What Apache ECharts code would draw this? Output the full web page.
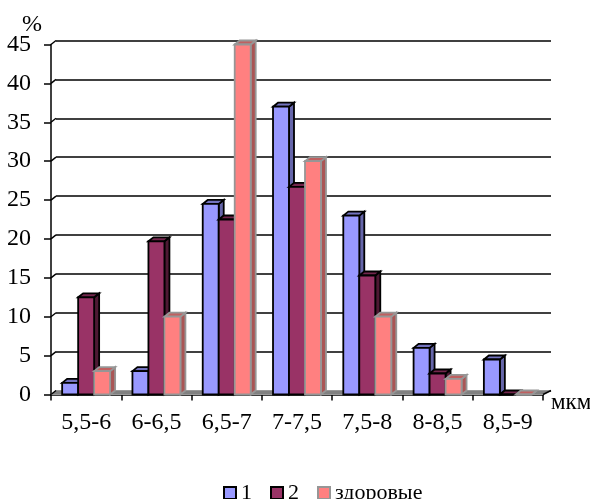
<!DOCTYPE html>
<html><head><meta charset="utf-8">
<style>html,body{margin:0;padding:0;background:#fff;overflow:hidden}#c{width:590px;height:499px}</style>
<script src="https://cdn.jsdelivr.net/npm/echarts@6/dist/echarts.min.js"></script>
</head><body><div id="c"></div>
<script>
const categories = ['5,5-6','6-6,5','6,5-7','7-7,5','7,5-8','8-8,5','8,5-9'];
const series1 = [1.5, 3, 24.5, 37, 23, 6, 4.5];
const series2 = [12.5, 19.7, 22.5, 26.7, 15.3, 2.7, 0];
const healthy = [3, 10, 45, 30, 10, 2, 0];
const yTicks = [0,5,10,15,20,25,30,35,40,45];
const names = ['1','2','здоровые'];
const colors = [
  {front:'#9999FF', top:'#7373BF', side:'#6666AA', border:'#000000'},
  {front:'#993366', top:'#73264C', side:'#4D1933', border:'#000000'},
  {front:'#FF8080', top:'#BF6060', side:'#AA5555', border:'#969696'}
];
const DX = 5, DY = 4, FONT = '"Liberation Serif","Times New Roman",serif';
const chart = echarts.init(document.getElementById('c'), null, {renderer:'canvas'});

function barSeries(idx, values){
  const c = colors[idx];
  return {
    type:'custom', name:names[idx], xAxisIndex:0, yAxisIndex:0, z:5+idx,
    itemStyle:{color:c.front, borderColor:c.border, borderWidth:2},
    data: values.map((v,i)=>[i,v]),
    encode:{x:0,y:1},
    renderItem(params, api){
      const p = api.coord([api.value(0), api.value(1)]);
      const base = api.coord([api.value(0), 0]);
      const w = api.size([1,0])[0] * 0.2275;
      const x = p[0] + (idx-1.5)*w, y = p[1], b = base[1];
      const st = f => ({fill:f, stroke:c.border, lineWidth:1.8, lineJoin:'miter'});
      return {type:'group', children:[
        {type:'polygon', shape:{points:[[x+w,y],[x+w+DX,y-DY],[x+w+DX,b-DY],[x+w,b]]}, style:st(c.side)},
        {type:'polygon', shape:{points:[[x,y],[x+DX,y-DY],[x+w+DX,y-DY],[x+w,y]]}, style:st(c.top)},
        {type:'rect', shape:{x:x,y:y,width:w,height:b-y}, style:st(c.front)}
      ]};
    }
  };
}

const wall = {
  type:'custom', name:'wall', xAxisIndex:0, yAxisIndex:0, z:1, silent:true,
  data: yTicks.map(v=>[0,v]), encode:{x:0,y:1},
  renderItem(params, api){
    const v = api.value(1);
    const y = api.coord([0,v])[1];
    const gs = params.coordSys, x0 = gs.x, x1 = gs.x+gs.width;
    const kids = [{type:'line', shape:{x1:x0,y1:y,x2:x0+DX,y2:y-DY}, style:{stroke:'#000',lineWidth:1.5}}];
    if (v === 0) {
      kids.unshift({type:'polygon', shape:{points:[[x0,y],[x0+DX,y-DY],[x1+8,y-DY],[x1,y]]},
        style:{fill:'#808080', stroke:'#999999', lineWidth:1}});
      kids.push({type:'line', shape:{x1:x1,y1:y,x2:x1+8,y2:y-DY}, style:{stroke:'#000',lineWidth:1.5}});
    }
    return {type:'group', children:kids};
  }
};

chart.setOption({
  animation:false,
  backgroundColor:'#fff',
  textStyle:{fontFamily:FONT, color:'#000'},
  legend:{
    left:218, top:477, itemWidth:12, itemHeight:12, itemGap:18, icon:'rect',
    textStyle:{fontFamily:FONT, fontSize:22, color:'#000', padding:[0,0,0,0]},
    data:names.map((n,i)=>({name:n, icon:'rect',
      itemStyle:{color:colors[i].front, borderColor:colors[i].border, borderWidth:2}}))
  },
  grid:[
    {left:51, top:44.5, width:492, height:350, outerBoundsMode:'none'},
    {left:56, top:40.5, width:495, height:350, outerBoundsMode:'none'}
  ],
  xAxis:[
    {type:'category', gridIndex:0, data:categories, boundaryGap:true,
     name:'мкм', nameLocation:'end', nameGap:8, nameMoveOverlap:false,
     nameTextStyle:{fontFamily:FONT, fontSize:23, color:'#000', verticalAlign:'top', padding:[-3,0,0,0], align:'left'},
     axisLine:{show:true, lineStyle:{color:'#000',width:1.5}},
     axisTick:{show:true, alignWithLabel:false, length:6, lineStyle:{color:'#000',width:1.5}},
     axisLabel:{fontFamily:FONT, fontSize:24, color:'#000', margin:16, interval:0},
     splitLine:{show:false}},
    {type:'category', gridIndex:1, data:categories, show:false}
  ],
  yAxis:[
    {type:'value', gridIndex:0, min:0, max:45, interval:5,
     name:'%', nameLocation:'end', nameGap:20, nameMoveOverlap:false,
     nameTextStyle:{fontFamily:FONT, fontSize:24, color:'#000', align:'center', verticalAlign:'middle', padding:[0,38,0,0]},
     axisLine:{show:true, lineStyle:{color:'#000',width:1.5}},
     axisTick:{show:true, length:7, lineStyle:{color:'#000',width:1.5}},
     axisLabel:{fontFamily:FONT, fontSize:24, color:'#000', margin:20, verticalAlign:'middle', lineHeight:26, padding:[3,0,0,0]},
     splitLine:{show:false}},
    {type:'value', gridIndex:1, min:0, max:45, interval:5,
     axisLine:{show:false}, axisTick:{show:false}, axisLabel:{show:false},
     splitLine:{show:true, lineStyle:{color:'#000',width:1.5}}}
  ],
  series:[wall, barSeries(0,series1), barSeries(1,series2), barSeries(2,healthy)]
});
</script></body></html>
